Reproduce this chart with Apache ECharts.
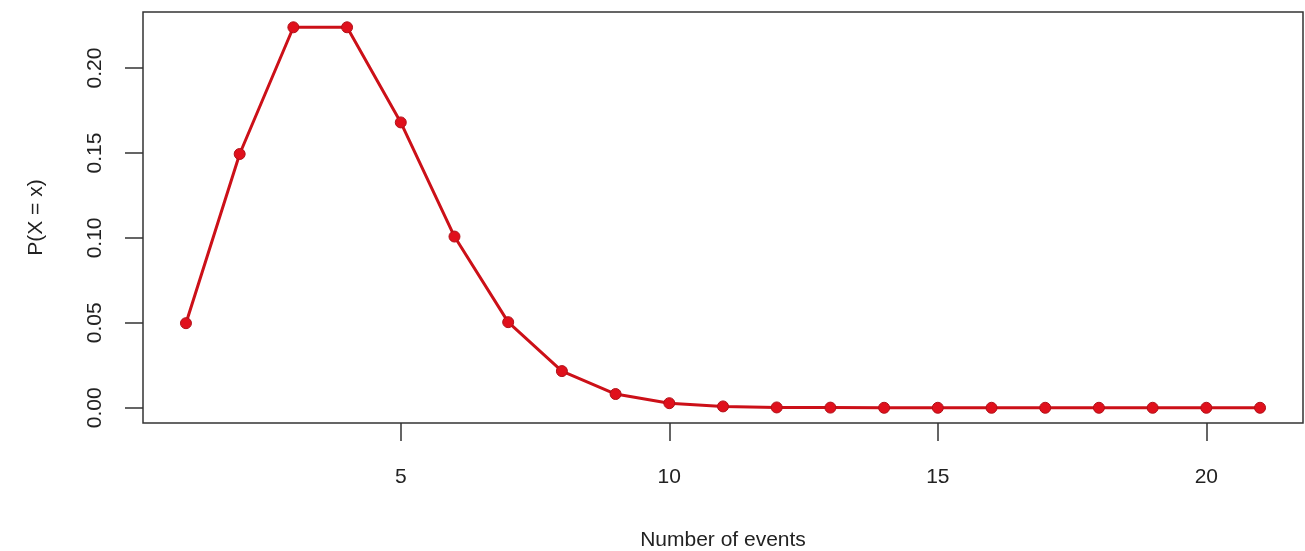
<!DOCTYPE html>
<html>
<head>
<meta charset="utf-8">
<script src="https://cdn.jsdelivr.net/npm/echarts@6/dist/echarts.min.js"></script>
<style>
  html, body { margin: 0; padding: 0; background: #fff; }
  #chart { width: 1305px; height: 551px; }
</style>
</head>
<body>
<div id="chart"></div>
<script>
// number of events (x) and probabilities
const events = [1, 2, 3, 4, 5, 6, 7, 8, 9, 10, 11, 12, 13, 14, 15, 16, 17, 18, 19, 20, 21]
const probs = [0.0498, 0.1494, 0.2240, 0.2240, 0.1680, 0.1008, 0.0504, 0.0216, 0.0081, 0.0027,
  0.0008, 0.0002, 0.0001, 0.0000, 0.0000, 0.0000, 0.0000, 0.0000, 0.0000, 0.0000, 0.0000]
const xTicks = [5, 10, 15, 20]
const yTicks = [0, 0.05, 0.10, 0.15, 0.20]

const font = 'Liberation Sans, Arial, sans-serif'
const chart = echarts.init(document.getElementById('chart'))

chart.setOption({
  animation: false,
  grid: {
    left: 143,
    right: 2,
    top: 12,
    bottom: 128,
    outerBoundsMode: 'none',
    show: true,
    borderColor: '#333',
    borderWidth: 1.5
  },
  xAxis: {
    type: 'value',
    min: 0.2,
    max: 21.8,
    name: 'Number of events',
    nameLocation: 'middle',
    nameGap: 107,
    nameTextStyle: { fontFamily: font, fontSize: 21, color: '#222' },
    axisLine: { show: false, onZero: false },
    splitLine: { show: false },
    axisTick: {
      show: true,
      length: 18,
      customValues: xTicks,
      lineStyle: { color: '#333', width: 1.5 }
    },
    axisLabel: {
      customValues: xTicks,
      margin: 44,
      fontFamily: font,
      fontSize: 21,
      color: '#222'
    }
  },
  yAxis: {
    type: 'value',
    min: -0.00896,
    max: 0.233,
    name: 'P(X = x)',
    nameLocation: 'middle',
    nameRotate: 90,
    nameGap: 96,
    nameTextStyle: { fontFamily: font, fontSize: 21, color: '#222' },
    axisLine: { show: false, onZero: false },
    splitLine: { show: false },
    axisTick: {
      show: true,
      length: 18,
      customValues: yTicks,
      lineStyle: { color: '#333', width: 1.5 }
    },
    axisLabel: {
      customValues: yTicks,
      rotate: 90,
      margin: 37,
      fontFamily: font,
      fontSize: 21,
      color: '#222',
      formatter: function (v) { return v.toFixed(2) }
    }
  },
  series: [{
    type: 'line',
    data: events.map((x, i) => [x, probs[i]]),
    symbol: 'circle',
    symbolSize: 11,
    lineStyle: { color: '#cc1018', width: 3 },
    itemStyle: { color: '#e0101c', borderColor: '#b01018', borderWidth: 1 }
  }]
})
</script>
</body>
</html>
